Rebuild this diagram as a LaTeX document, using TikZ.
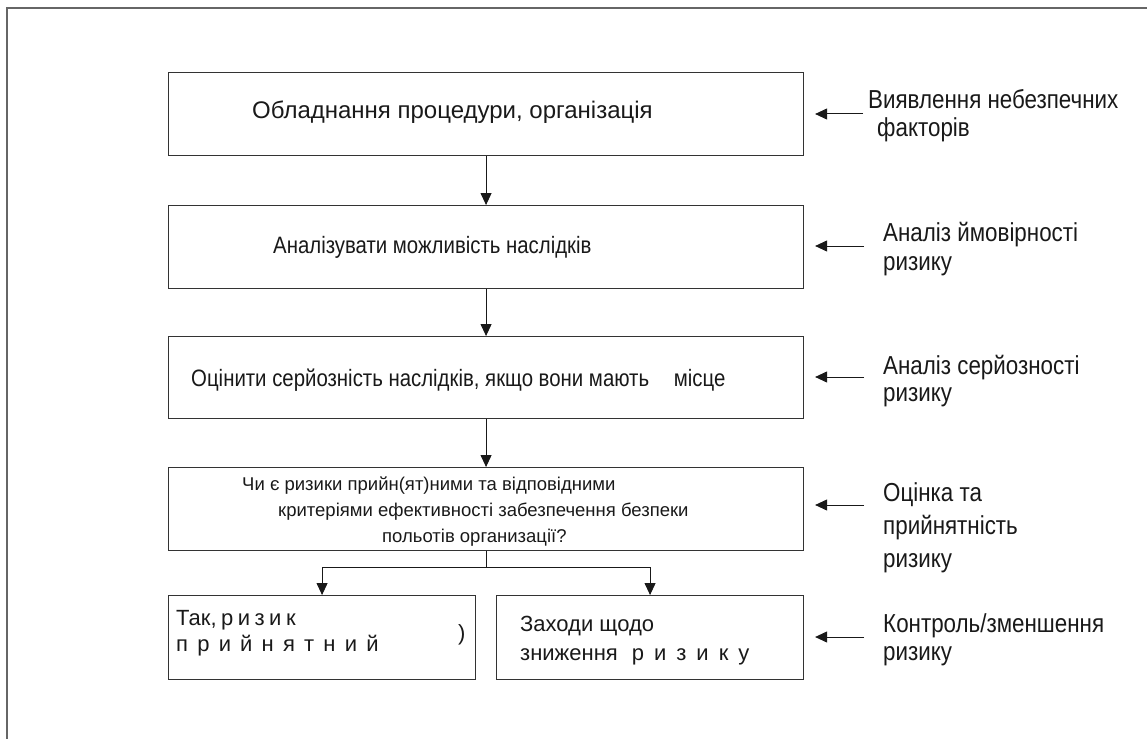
\documentclass[tikz,border=0pt]{standalone}
\usepackage{fontspec}
\setmainfont{Liberation Sans}
\newfontfamily\narrowfont[FakeStretch=0.86]{Liberation Sans}
\usetikzlibrary{arrows.meta}
\begin{document}
\begin{tikzpicture}[x=1pt,y=-1pt,
  frameline/.style={draw=black!60, line width=1.6pt},
  stepbox/.style={draw=black!80, line width=1.1pt, anchor=north west, inner sep=0pt},
  boxtext/.style={anchor=base west, inner sep=0pt, text=black!90},
  flow/.style={draw=black!90, line width=1pt, -{Triangle[length=12pt,width=11pt]}},
  plain/.style={draw=black!90, line width=1pt},
  lbl/.style={anchor=base west, inner sep=0pt, text=black!90, font=\narrowfont\fontsize{26}{28}\selectfont},
]
\useasboundingbox (0,0) rectangle (1147,738);

% outer frame (only its top and left edges fall inside the page)
\draw[frameline] (7,760) -- (7,8) -- (1170,8);

% process boxes
\node[stepbox, minimum width=635pt, minimum height=83pt] (b1) at (168,72) {};
\node[stepbox, minimum width=635pt, minimum height=83pt] (b2) at (168,205) {};
\node[stepbox, minimum width=635pt, minimum height=82pt] (b3) at (168,336) {};
\node[stepbox, minimum width=635pt, minimum height=83pt] (b4) at (168,467) {};
\node[stepbox, minimum width=307pt, minimum height=84pt] (b5) at (168,595) {};
\node[stepbox, minimum width=307pt, minimum height=84pt] (b6) at (496,595) {};

% box texts
\node[boxtext, font=\fontsize{24}{28}\selectfont] (t1) at (252,119) {Обладнання процедури, організація};
\node[boxtext, font=\narrowfont\fontsize{23.7}{26}\selectfont] (t2) at (273,253) {Аналізувати можливість наслідків};
\node[boxtext, font=\narrowfont\fontsize{23.7}{26}\selectfont] (t3) at (191,386) {Оцінити серйозність наслідків, якщо вони мають\hspace{19pt} місце};
\node[boxtext, font=\fontsize{18.5}{22}\selectfont] (t4a) at (242,490) {Чи є ризики прийн(ят)ними та відповідними};
\node[boxtext, font=\fontsize{18.5}{22}\selectfont] (t4b) at (278,516) {критеріями ефективності забезпечення безпеки};
\node[boxtext, font=\fontsize{18.5}{22}\selectfont] (t4c) at (382,542) {польотів организації?};
\node[boxtext, font=\fontsize{22}{26}\selectfont] (t5a) at (176,625) {\spaceskip=4.5pt\relax Так, р и з и к};
\node[boxtext, font=\fontsize{22}{26}\selectfont] (t5b) at (176,651) {\spaceskip=9.2pt\relax п р и й н я т н и й};
\node[boxtext, font=\fontsize{22}{26}\selectfont] (t5c) at (458,640) {)};
\node[boxtext, font=\fontsize{22}{26}\selectfont] (t6a) at (520,631) {Заходи щодо};
\node[boxtext, font=\fontsize{22}{26}\selectfont] (t6b) at (520,660) {\spaceskip=10pt\relax зниження\hspace{4pt} р и з и к у};

% main flow
\draw[flow] (b1) -- (b2);
\draw[flow] (b2) -- (b3);
\draw[flow] (b3) -- (b4);
\coordinate (split) at (b4.south |- 0,567);
\draw[plain] (b4.south) -- (split);
\draw[flow] (split) -| (b5.north);
\draw[flow] (split) -| (b6.north);

% stage labels
\node[lbl] (l1a) at (868,109) {Виявлення небезпечних};
\node[lbl] (l1b) at (877,137) {факторів};
\node[lbl] (l2a) at (883,241) {Аналіз ймовірності};
\node[lbl] (l2b) at (883,270) {ризику};
\node[lbl] (l3a) at (883,374) {Аналіз серйозності};
\node[lbl] (l3b) at (883,401) {ризику};
\node[lbl] (l4a) at (883,501) {Оцінка та};
\node[lbl] (l4b) at (883,534) {прийнятність};
\node[lbl] (l4c) at (883,567) {ризику};
\node[lbl] (l5a) at (883,632) {Контроль/зменшення};
\node[lbl] (l5b) at (883,660) {ризику};

% arrows from the labels to the boxes
\coordinate (s1) at (863,114);
\coordinate (s2) at (864,246);
\coordinate (s3) at (864,377);
\coordinate (s4) at (864,505);
\coordinate (s5) at (864,637);
\draw[flow] (s1) -- ([xshift=11pt]b1.east |- s1);
\draw[flow] (s2) -- ([xshift=11pt]b2.east |- s2);
\draw[flow] (s3) -- ([xshift=11pt]b3.east |- s3);
\draw[flow] (s4) -- ([xshift=11pt]b4.east |- s4);
\draw[flow] (s5) -- ([xshift=11pt]b6.east |- s5);
\end{tikzpicture}
\end{document}
